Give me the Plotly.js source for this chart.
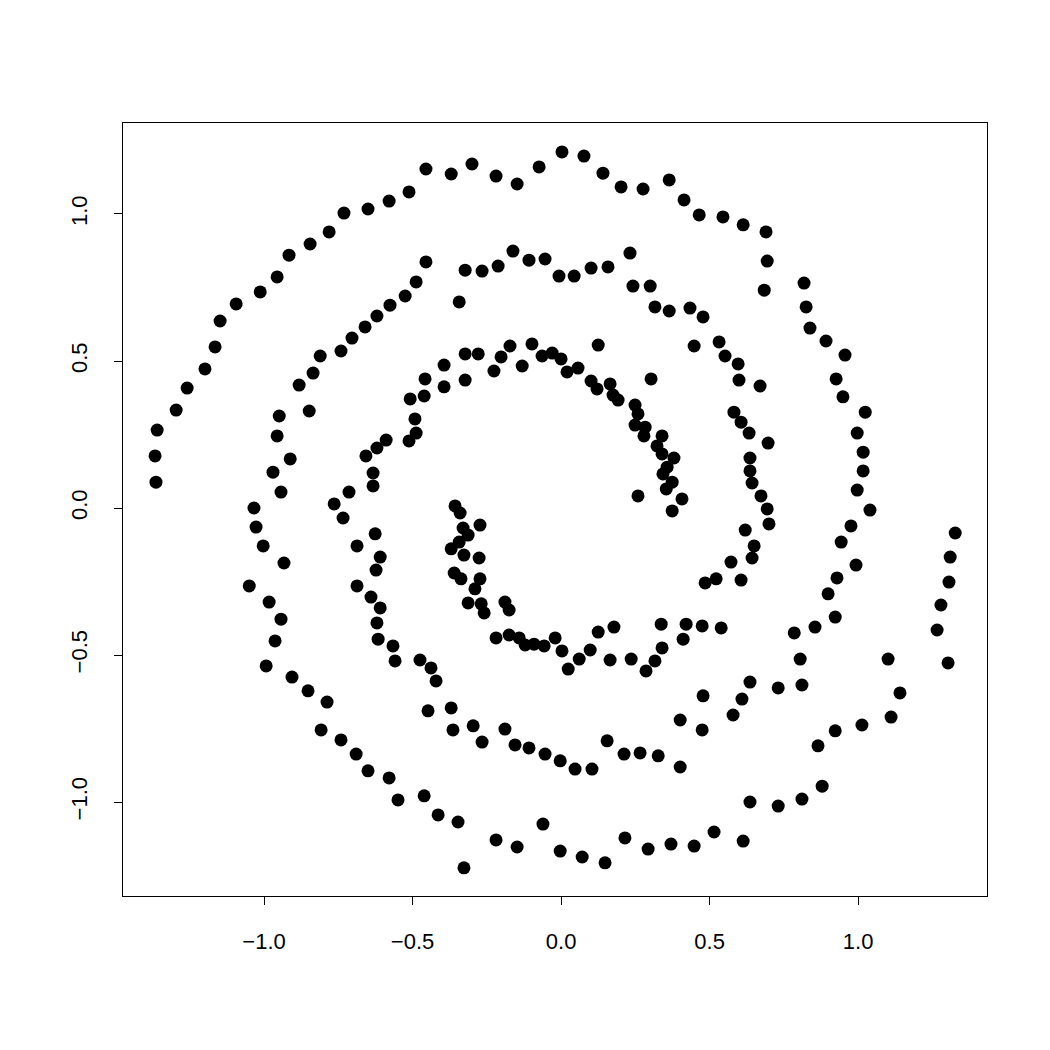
<!DOCTYPE html>
<html>
<head>
<meta charset="utf-8">
<script src="https://cdn.plot.ly/plotly-3.0.1.min.js"></script>
<style>html,body{margin:0;padding:0;background:#fff;}#chart{width:1050px;height:1050px;}</style>
</head>
<body>
<div id="chart"></div>
<script>
// Spiral points (x, y)
var xs = [
-1.364,-1.367,-1.360,-1.296,-1.259,-1.199,-1.165,-1.148,-1.094,-1.013,-0.956,-0.916,-0.845,-0.781,-0.731,-0.650,-0.579,-0.512,-0.455,-0.370,
-0.300,-0.219,-0.148,-0.074,0.003,0.077,0.141,0.202,0.276,0.364,0.414,0.465,0.545,0.613,0.690,0.694,0.684,0.818,0.825,0.838,
0.892,0.956,0.926,0.949,1.024,0.997,1.017,1.017,0.997,1.040,0.976,0.943,0.993,0.929,0.899,0.923,0.855,0.785,0.805,0.811,
0.731,0.636,0.609,0.579,0.478,0.475,0.401,0.401,0.327,0.266,0.212,0.155,0.104,0.047,-0.003,-0.054,-0.108,-0.155,-0.189,-0.266,
-0.296,-0.364,-0.370,-0.448,-0.421,-0.438,-0.475,-0.461,-0.414,-0.347,-0.327,-0.219,-0.148,-0.061,-0.003,0.071,0.148,0.215,0.293,0.370,
0.448,0.515,0.613,0.636,0.731,0.811,0.879,0.865,0.923,1.013,1.111,1.101,1.141,1.327,1.310,1.306,1.279,1.266,1.303,-0.808,
-0.741,-0.690,-0.650,-0.579,-0.549,-0.788,-0.852,-0.906,-0.993,-0.963,-0.943,-0.983,-1.050,-0.933,-1.003,-1.027,-1.034,-0.943,-0.970,-0.912,
-0.956,-0.949,-0.848,-0.882,-0.835,-0.811,-0.741,-0.704,-0.660,-0.620,-0.576,-0.525,-0.488,-0.455,-0.343,-0.323,-0.266,-0.212,-0.162,-0.108,
-0.054,-0.007,0.044,0.101,0.158,0.232,0.242,0.300,0.316,0.364,0.434,0.478,0.532,0.448,0.552,0.596,0.599,0.670,0.582,0.606,
0.633,0.697,0.636,0.636,0.643,0.673,0.694,0.700,0.620,0.650,0.643,0.572,0.606,0.522,0.485,0.475,0.539,0.421,0.411,0.337,
0.340,0.316,0.286,0.236,0.165,0.178,0.125,0.098,0.061,0.024,0.003,-0.020,-0.057,-0.091,-0.121,-0.141,-0.175,-0.219,-0.175,-0.189,
-0.259,-0.269,-0.313,-0.290,-0.273,-0.337,-0.360,-0.276,-0.327,-0.370,-0.343,-0.313,-0.330,-0.273,-0.340,-0.357,-0.734,-0.626,-0.687,-0.609,
-0.623,-0.687,-0.640,-0.609,-0.620,-0.616,-0.566,-0.559,-0.508,-0.492,-0.488,-0.512,-0.589,-0.620,-0.657,-0.633,-0.633,-0.714,-0.764,-0.458,
-0.461,-0.394,-0.394,-0.323,-0.279,-0.323,-0.226,-0.202,-0.172,-0.131,-0.098,-0.064,-0.030,0.000,0.020,0.057,0.125,0.101,0.121,0.165,
0.175,0.192,0.303,0.249,0.259,0.249,0.283,0.279,0.340,0.323,0.340,0.380,0.357,0.343,0.374,0.354,0.407,0.259,0.374
];
var ys = [
0.088,0.177,0.265,0.333,0.408,0.473,0.548,0.636,0.694,0.735,0.786,0.860,0.898,0.939,1.003,1.017,1.044,1.075,1.153,1.136,
1.170,1.129,1.102,1.160,1.211,1.197,1.139,1.092,1.085,1.116,1.048,0.997,0.990,0.963,0.939,0.840,0.741,0.765,0.684,0.612,
0.568,0.520,0.439,0.378,0.326,0.255,0.190,0.126,0.061,-0.007,-0.061,-0.116,-0.194,-0.238,-0.292,-0.371,-0.405,-0.425,-0.514,-0.602,
-0.612,-0.592,-0.650,-0.704,-0.639,-0.755,-0.721,-0.881,-0.843,-0.833,-0.837,-0.792,-0.888,-0.888,-0.860,-0.837,-0.816,-0.806,-0.752,-0.796,
-0.741,-0.755,-0.680,-0.690,-0.588,-0.544,-0.517,-0.979,-1.044,-1.068,-1.224,-1.129,-1.153,-1.075,-1.167,-1.187,-1.207,-1.122,-1.160,-1.143,
-1.150,-1.102,-1.133,-1.000,-1.014,-0.990,-0.946,-0.809,-0.758,-0.738,-0.711,-0.514,-0.629,-0.085,-0.167,-0.252,-0.330,-0.415,-0.527,-0.755,
-0.789,-0.837,-0.894,-0.918,-0.993,-0.660,-0.622,-0.575,-0.537,-0.452,-0.378,-0.320,-0.265,-0.187,-0.129,-0.065,0.000,0.054,0.122,0.167,
0.245,0.313,0.330,0.418,0.459,0.517,0.534,0.578,0.616,0.653,0.690,0.721,0.769,0.837,0.701,0.809,0.806,0.823,0.874,0.843,
0.847,0.789,0.789,0.816,0.820,0.867,0.755,0.755,0.684,0.670,0.680,0.650,0.565,0.551,0.517,0.490,0.435,0.415,0.326,0.292,
0.255,0.221,0.170,0.126,0.085,0.041,-0.003,-0.054,-0.075,-0.129,-0.170,-0.184,-0.245,-0.241,-0.255,-0.401,-0.408,-0.395,-0.446,-0.395,
-0.476,-0.520,-0.554,-0.514,-0.517,-0.405,-0.422,-0.483,-0.514,-0.548,-0.486,-0.442,-0.469,-0.463,-0.466,-0.442,-0.432,-0.442,-0.347,-0.320,
-0.357,-0.326,-0.323,-0.275,-0.241,-0.241,-0.221,-0.170,-0.160,-0.139,-0.116,-0.092,-0.068,-0.058,-0.017,0.007,-0.034,-0.088,-0.129,-0.167,
-0.211,-0.265,-0.303,-0.340,-0.391,-0.446,-0.469,-0.520,0.371,0.303,0.255,0.228,0.231,0.204,0.177,0.119,0.075,0.054,0.014,0.439,
0.381,0.486,0.412,0.524,0.524,0.435,0.466,0.514,0.551,0.483,0.558,0.517,0.527,0.507,0.463,0.476,0.554,0.432,0.405,0.422,
0.384,0.367,0.439,0.350,0.320,0.282,0.275,0.245,0.245,0.211,0.184,0.170,0.139,0.116,0.088,0.065,0.031,0.041,-0.010
];

var xTickVals = [-1.0, -0.5, 0.0, 0.5, 1.0];
var xTickText = ["\u22121.0", "\u22120.5", "0.0", "0.5", "1.0"];
var yTickVals = [-1.0, -0.5, 0.0, 0.5, 1.0];
var yTickText = ["\u22121.0", "\u22120.5", "0.0", "0.5", "1.0"];

var trace = {
  x: xs, y: ys, type: "scatter", mode: "markers",
  marker: {color: "#000000", size: 13, line: {width: 0}},
  hoverinfo: "skip"
};

var axisFont = {family: "Liberation Sans, Arial, Helvetica, sans-serif", size: 22, color: "#000"};

var layout = {
  width: 1050, height: 1050,
  margin: {l: 123, r: 63, t: 123, b: 154, pad: 0},
  paper_bgcolor: "#fff", plot_bgcolor: "#fff",
  showlegend: false,
  xaxis: {
    range: [-1.475, 1.434], showgrid: false, zeroline: false,
    showline: true, mirror: true, linecolor: "#000", linewidth: 1,
    ticks: "outside", ticklen: 8, tickwidth: 1, tickcolor: "#000",
    tickvals: xTickVals, ticktext: xTickText, tickfont: axisFont,
    ticklabelstandoff: 18
  },
  yaxis: {
    range: [-1.3197, 1.3095], showgrid: false, zeroline: false,
    showline: true, mirror: true, linecolor: "#000", linewidth: 1,
    ticks: "outside", ticklen: 8, tickwidth: 1, tickcolor: "#000",
    tickvals: yTickVals, ticktext: yTickText, tickfont: axisFont,
    tickangle: -90, ticklabelstandoff: 18
  }
};

Plotly.newPlot("chart", [trace], layout, {displayModeBar: false, staticPlot: true});
</script>
</body>
</html>
